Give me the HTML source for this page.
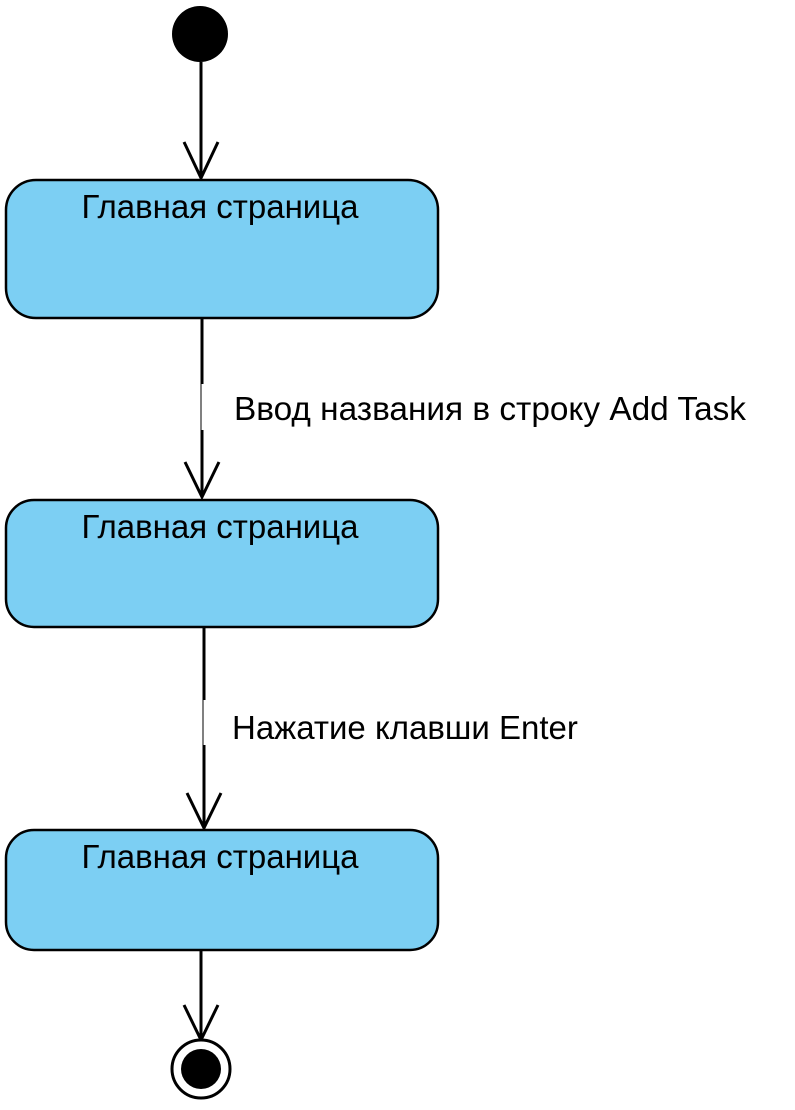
<!DOCTYPE html>
<html><head><meta charset="utf-8"><style>body{margin:0;background:#fff}svg{display:block}</style></head><body>
<svg width="795" height="1110" xmlns="http://www.w3.org/2000/svg" font-family="Liberation Sans, sans-serif">
<circle cx="200" cy="34" r="28" fill="#000"/>
<g stroke="#000" stroke-width="3" fill="none">
<line x1="201" y1="62" x2="201" y2="178"/><polyline points="184,142 201,178 218,142"/>
<line x1="202" y1="318" x2="202" y2="384"/><line x1="202" y1="430" x2="202" y2="497"/><polyline points="185,462 202,497 219,462"/>
<line x1="204" y1="627" x2="204" y2="700"/><line x1="204" y1="745" x2="204" y2="828"/><polyline points="187,793 204,828 221,793"/>
<line x1="201" y1="950" x2="201" y2="1040"/><polyline points="184,1005 201,1040 218,1005"/>
</g>
<g stroke="#000" stroke-width="1">
<line x1="201" y1="384" x2="201" y2="430"/>
<line x1="203" y1="700" x2="203" y2="745"/>
</g>
<g fill="#7ccff3" stroke="#000" stroke-width="2.5">
<rect x="6" y="180" width="432" height="138" rx="30"/>
<rect x="6" y="500" width="432" height="127" rx="28"/>
<rect x="6" y="830" width="432" height="120" rx="28"/>
</g>
<g font-size="33" fill="#000" text-anchor="middle">
<text x="220" y="218">Главная страница</text>
<text x="220" y="538">Главная страница</text>
<text x="220" y="868">Главная страница</text>
</g>
<text x="234" y="420" font-size="33" textLength="512" lengthAdjust="spacingAndGlyphs">Ввод названия в строку Add Task</text>
<text x="232" y="739" font-size="33">Нажатие клавши Enter</text>
<circle cx="201" cy="1069" r="29" fill="#fff" stroke="#000" stroke-width="3"/>
<circle cx="201" cy="1069" r="20" fill="#000"/>
</svg>
</body></html>
